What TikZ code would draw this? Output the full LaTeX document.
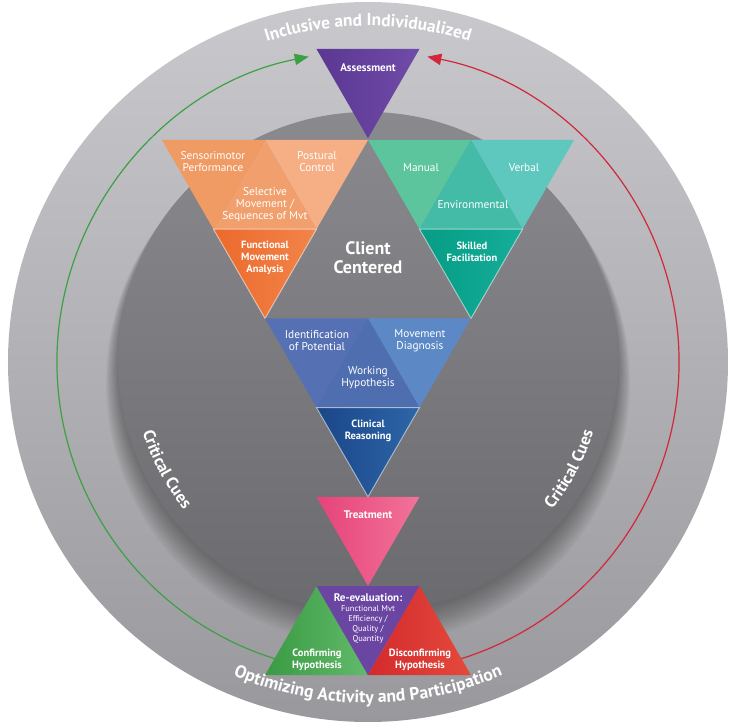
\documentclass[tikz,border=0pt]{standalone}
\usepackage{fontspec}
\setmainfont{PT Sans}
\usetikzlibrary{decorations.text,arrows.meta}

\definecolor{ringtop}{HTML}{C9C8CC}
\definecolor{ringbot}{HTML}{99989C}
\definecolor{disktop}{HTML}{8A898D}
\definecolor{diskbot}{HTML}{6B6A6E}
\definecolor{asL}{HTML}{5A3892}
\definecolor{asR}{HTML}{704BA8}
\definecolor{orA}{HTML}{F09A64}
\definecolor{orB}{HTML}{F6AE85}
\definecolor{orC}{HTML}{F29F6E}
\definecolor{orD1}{HTML}{EC6A2C}
\definecolor{orD2}{HTML}{F2844A}
\definecolor{tA}{HTML}{5CC59E}
\definecolor{tB}{HTML}{5FC8BE}
\definecolor{tC}{HTML}{44BBA7}
\definecolor{tD1}{HTML}{069C85}
\definecolor{tD2}{HTML}{15AE9A}
\definecolor{bA}{HTML}{5671B3}
\definecolor{bB}{HTML}{5C89C5}
\definecolor{bC}{HTML}{4E6EB0}
\definecolor{bD1}{HTML}{1A4689}
\definecolor{bD2}{HTML}{2D66A8}
\definecolor{pk1}{HTML}{E6437A}
\definecolor{pk2}{HTML}{F27399}
\definecolor{gr1}{HTML}{3A9A43}
\definecolor{gr2}{HTML}{62BA6A}
\definecolor{pu}{HTML}{6A45A2}
\definecolor{rd1}{HTML}{D32A2C}
\definecolor{rd2}{HTML}{E44A3C}
\definecolor{arG}{HTML}{3EA045}
\definecolor{arR}{HTML}{D1283B}

\begin{document}
\begin{tikzpicture}[x=0.75pt,y=0.75pt,
  lbl/.style={text=white, align=center, inner sep=0pt, font=\fontsize{8.5}{9}\selectfont},
  blbl/.style={text=white, align=center, inner sep=0pt, font=\fontsize{7.9}{9}\bfseries\selectfont},
  tlbl/.style={text=white, align=center, inner sep=0pt, font=\fontsize{8.3}{9}\bfseries\selectfont},
  sublbl/.style={text=white, align=center, inner sep=0pt, font=\fontsize{6.3}{7.5}\selectfont},
  bigl/.style={text=white, align=center, inner sep=0pt, font=\fontsize{13.5}{14.5}\bfseries\selectfont},
  edge/.style={draw=white, draw opacity=0.55, line width=0.7pt},
  cyc/.style={line width=0.9pt},
]
\useasboundingbox (-368,-362) rectangle (364,362);

% rings
\shade[top color=ringtop, bottom color=ringbot] (0,0) circle[radius=360];
\foreach \k in {0,...,11}
  \fill[black, opacity=0.03] (0,-4-\k*1.5) circle[radius=250+\k*1.1];
\shade[top color=disktop, bottom color=diskbot] (0,0) circle[radius=250];

% ring texts
\path[decorate, decoration={text along path, text align=center, text color=white,
  text={|\fontsize{13}{15}\bfseries\selectfont|Inclusive and Individualized}}]
  (130:336) arc[start angle=130, end angle=50, radius=336];
\path[decorate, decoration={text along path, text align=center, text color=white,
  text={|\fontsize{13.2}{15}\bfseries\selectfont|Optimizing Activity and Participation}}]
  (205:341) arc[start angle=205, end angle=335, radius=341];
\path[decorate, decoration={text along path, text align=center, text color=white,
  text={|\fontsize{12.5}{14}\bfseries\selectfont|Critical Cues}}]
  (175:236) arc[start angle=175, end angle=241, radius=236];
\path[decorate, decoration={text along path, text align=center, text color=white,
  text={|\fontsize{12.5}{14}\bfseries\selectfont|Critical Cues}}]
  (299:236) arc[start angle=299, end angle=365, radius=236];

% cycle arrows
\coordinate (gstart) at (254:311);
\coordinate (rstart) at (-74:311);
\draw[cyc, draw=arG, -{Triangle[length=10.5pt,width=8.5pt]}] (gstart) arc[start angle=254, end angle=101, radius=311];
\draw[cyc, draw=arR, -{Triangle[length=10.5pt,width=8.5pt]}] (rstart) arc[start angle=-74, end angle=79, radius=311];

% Assessment
\shade[left color=asL, right color=asR] (-51.5,313) -- (51.5,313) -- (0,223.8) -- cycle;
\node[tlbl] (assess) at (0,294) {Assessment};

% Orange: Functional Movement Analysis
\fill[orA] (-206,222) -- (-103,222) -- (-154.5,132.8) -- cycle;
\fill[orB] (-103,222) -- (0,222) -- (-51.5,132.8) -- cycle;
\fill[orC] (-154.5,132.8) -- (-51.5,132.8) -- (-103,222) -- cycle;
\shade[left color=orD1, right color=orD2] (-154.5,132.8) -- (-51.5,132.8) -- (-103,43.6) -- cycle;
\draw[edge] (-154.5,132.8) -- (-51.5,132.8) -- (-103,43.6) -- cycle;
\node[lbl] (senso) at (-155,200) {Sensorimotor\\Performance};
\node[lbl] (postu) at (-51,200) {Postural\\Control};
\node[lbl] (selec) at (-103,157) {Selective\\Movement /\\Sequences of Mvt};
\node[blbl] (fma) at (-103,104) {Functional\\Movement\\Analysis};

% Teal: Skilled Facilitation
\fill[tA] (0,222) -- (103,222) -- (51.5,132.8) -- cycle;
\fill[tB] (103,222) -- (206,222) -- (154.5,132.8) -- cycle;
\fill[tC] (51.5,132.8) -- (154.5,132.8) -- (103,222) -- cycle;
\shade[left color=tD1, right color=tD2] (51.5,132.8) -- (154.5,132.8) -- (103,43.6) -- cycle;
\draw[edge] (51.5,132.8) -- (154.5,132.8) -- (103,43.6) -- cycle;
\node[lbl] (manual) at (53,194) {Manual};
\node[lbl] (verbal) at (156,194) {Verbal};
\node[lbl] (envir) at (105,157) {Environmental};
\node[blbl] (skill) at (104,110) {Skilled\\Facilitation};

% Client Centered
\node[bigl] (client) at (0,104) {Client\\Centered};

% Blue: Clinical Reasoning
\fill[bA] (-103,43.6) -- (0,43.6) -- (-51.5,-45.6) -- cycle;
\fill[bB] (0,43.6) -- (103,43.6) -- (51.5,-45.6) -- cycle;
\fill[bC] (-51.5,-45.6) -- (51.5,-45.6) -- (0,43.6) -- cycle;
\shade[left color=bD1, right color=bD2] (-51.5,-45.6) -- (51.5,-45.6) -- (0,-134.8) -- cycle;
\draw[edge] (-51.5,-45.6) -- (51.5,-45.6) -- (0,-134.8) -- cycle;
\node[lbl] (ident) at (-51,21) {Identification\\of Potential};
\node[lbl] (mdiag) at (52,21) {Movement\\Diagnosis};
\node[lbl] (whyp) at (0,-16) {Working\\Hypothesis};
\node[blbl] (clin) at (0,-69) {Clinical\\Reasoning};

% Treatment
\shade[left color=pk1, right color=pk2] (-51.5,-134.8) -- (51.5,-134.8) -- (0,-224) -- cycle;
\node[tlbl] (treat) at (0,-153) {Treatment};

% Re-evaluation row
\shade[left color=gr1, right color=gr2] (-103,-313.2) -- (0,-313.2) -- (-51.5,-224) -- cycle;
\fill[pu] (-51.5,-224) -- (51.5,-224) -- (0,-313.2) -- cycle;
\shade[left color=rd1, right color=rd2] (0,-313.2) -- (103,-313.2) -- (51.5,-224) -- cycle;
\node[tlbl] (reev) at (0,-236) {Re-evaluation:};
\node[sublbl] (reevs) at (0,-262.5) {Functional Mvt\\Efficiency /\\Quality /\\Quantity};
\node[blbl] (conf) at (-51,-298) {Confirming\\Hypothesis};
\node[blbl] (disc) at (52,-298) {Disconfirming\\Hypothesis};
\end{tikzpicture}
\end{document}
